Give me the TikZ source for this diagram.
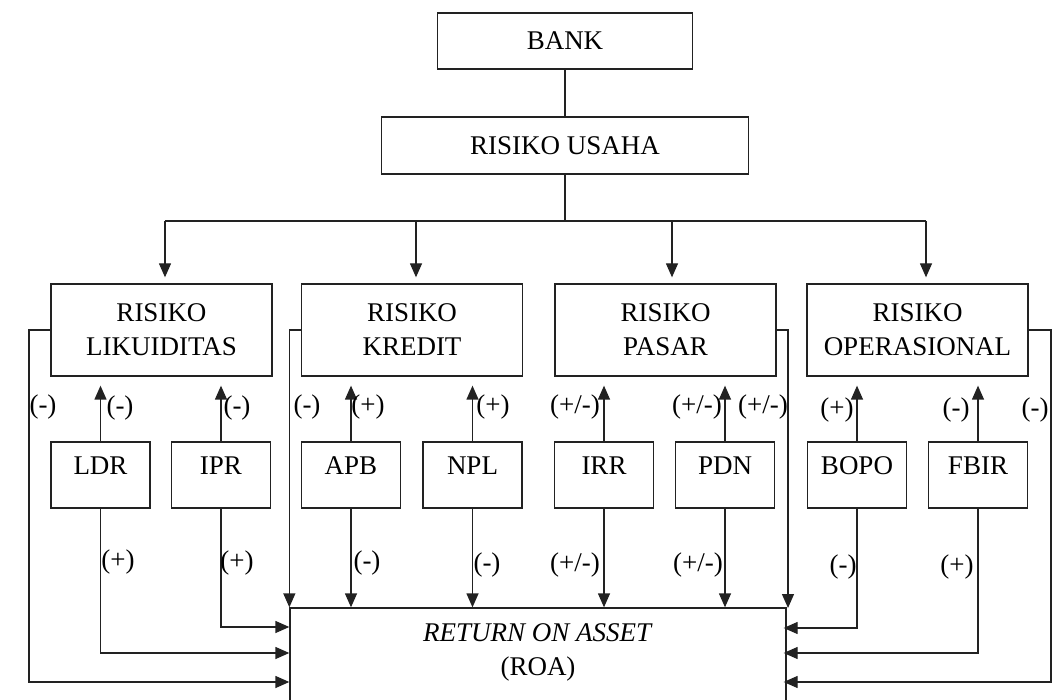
\documentclass[tikz,border=0pt]{standalone}
\usepackage{fontspec}
\setmainfont{Liberation Serif}
\usetikzlibrary{arrows.meta}
\definecolor{ink}{HTML}{222222}
\begin{document}
\begin{tikzpicture}[x=1pt,y=-1pt,
  every node/.style={font=\fontsize{27}{34}\selectfont, text=black},
  box/.style={draw=ink, line width=1.3pt, align=center, inner sep=0pt},
  topbox/.style={box, minimum height=92pt, minimum width=221pt},
  ratio/.style={box, minimum height=66pt, minimum width=99pt, text depth=18pt},
  conn/.style={draw=ink, line width=1.3pt},
  arr/.style={conn, -{Triangle[length=14pt,width=12pt]}},
  lbl/.style={inner sep=0pt}]
\useasboundingbox (0,0) rectangle (1053,700);

% hierarchy
\node[box, minimum width=255pt, minimum height=56pt] (bank) at (565,41) {BANK};
\node[box, minimum width=367pt, minimum height=57pt] (usaha) at (565,145.5) {RISIKO USAHA};

\node[topbox] (lik) at (161.5,330) {RISIKO\\LIKUIDITAS};
\node[topbox] (kre) at (412,330) {RISIKO\\KREDIT};
\node[topbox] (pas) at (665.5,330) {RISIKO\\PASAR};
\node[topbox] (ops) at (917.5,330) {RISIKO\\OPERASIONAL};

\coordinate (bus) at (565,221);
\coordinate (b1) at (165,221);
\coordinate (b2) at (416,221);
\coordinate (b3) at (672,221);
\coordinate (b4) at (926,221);

\draw[conn] (bank.south) -- (usaha.north);
\draw[conn] (usaha.south) -- (bus);
\draw[conn] (b1) -- (b4);
\foreach \b/\t in {b1/lik, b2/kre, b3/pas, b4/ops}
  \draw[arr, shorten >=6pt] (\b) -- (\b |- \t.north);

% ratios
\node[ratio] (ldr)  at (100.5,475) {LDR};
\node[ratio] (ipr)  at (221,475)   {IPR};
\node[ratio] (apb)  at (351,475)   {APB};
\node[ratio] (npl)  at (472.5,475) {NPL};
\node[ratio] (irr)  at (604,475)   {IRR};
\node[ratio] (pdn)  at (725,475)   {PDN};
\node[ratio] (bopo) at (857,475)   {BOPO};
\node[ratio] (fbir) at (978,475)   {FBIR};

\foreach \r/\t in {ldr/lik, ipr/lik, apb/kre, npl/kre, irr/pas, pdn/pas, bopo/ops, fbir/ops}
  \draw[arr, shorten >=9pt] (\r.north) -- (\r.north |- \t.south);

% return on asset
\node[draw=ink, line width=1.3pt, minimum width=496pt, minimum height=160pt] (roa) at (538,688) {};
\node[anchor=north, inner sep=0pt, align=center] (roatext) at ([yshift=-16pt]roa.north)
  {\textit{RETURN ON ASSET}\\(ROA)};

% feeds entering from the left
\coordinate (l1) at (29,682);
\draw[arr] (lik.west) -| (l1) -- (l1 -| roa.west);
\draw[arr] (ldr.south) |- (roa.west |- 0,653);
\draw[arr] (ipr.south) |- (roa.west |- 0,627);
\draw[arr] (kre.west) -| (roa.north west);

% feeds entering from above
\foreach \r in {apb, npl, irr, pdn}
  \draw[arr] (\r.south) -- (\r.south |- roa.north);

% feeds entering from the right
\coordinate (r1) at (1051,682);
\coordinate (r0) at (788,608);
\draw[arr] (pas.east) -| (r0);
\draw[arr, shorten >=-3pt] (bopo.south) |- (roa.east |- 0,628);
\draw[arr, shorten >=-3pt] (fbir.south) |- (roa.east |- 0,653);
\draw[arr, shorten >=-3pt] (ops.east) -| (r1) -- (r1 -| roa.east);

% signs
\node[lbl] (s1)  at (43,407)   {(-)};
\node[lbl] (s2)  at (120,408)  {(-)};
\node[lbl] (s3)  at (237,408)  {(-)};
\node[lbl] (s4)  at (307,407)  {(-)};
\node[lbl] (s5)  at (368,407)  {(+)};
\node[lbl] (s6)  at (493,407)  {(+)};
\node[lbl] (s7)  at (575,407)  {(+/-)};
\node[lbl] (s8)  at (697,407)  {(+/-)};
\node[lbl] (s9)  at (763,407)  {(+/-)};
\node[lbl] (s10) at (837,410)  {(+)};
\node[lbl] (s11) at (956,410)  {(-)};
\node[lbl] (s12) at (1035,410) {(-)};
\node[lbl] (s13) at (118,562)  {(+)};
\node[lbl] (s14) at (237,563)  {(+)};
\node[lbl] (s15) at (367,563)  {(-)};
\node[lbl] (s16) at (487,565)  {(-)};
\node[lbl] (s17) at (575,565)  {(+/-)};
\node[lbl] (s18) at (698,565)  {(+/-)};
\node[lbl] (s19) at (843,567)  {(-)};
\node[lbl] (s20) at (957,567)  {(+)};
\end{tikzpicture}
\end{document}
